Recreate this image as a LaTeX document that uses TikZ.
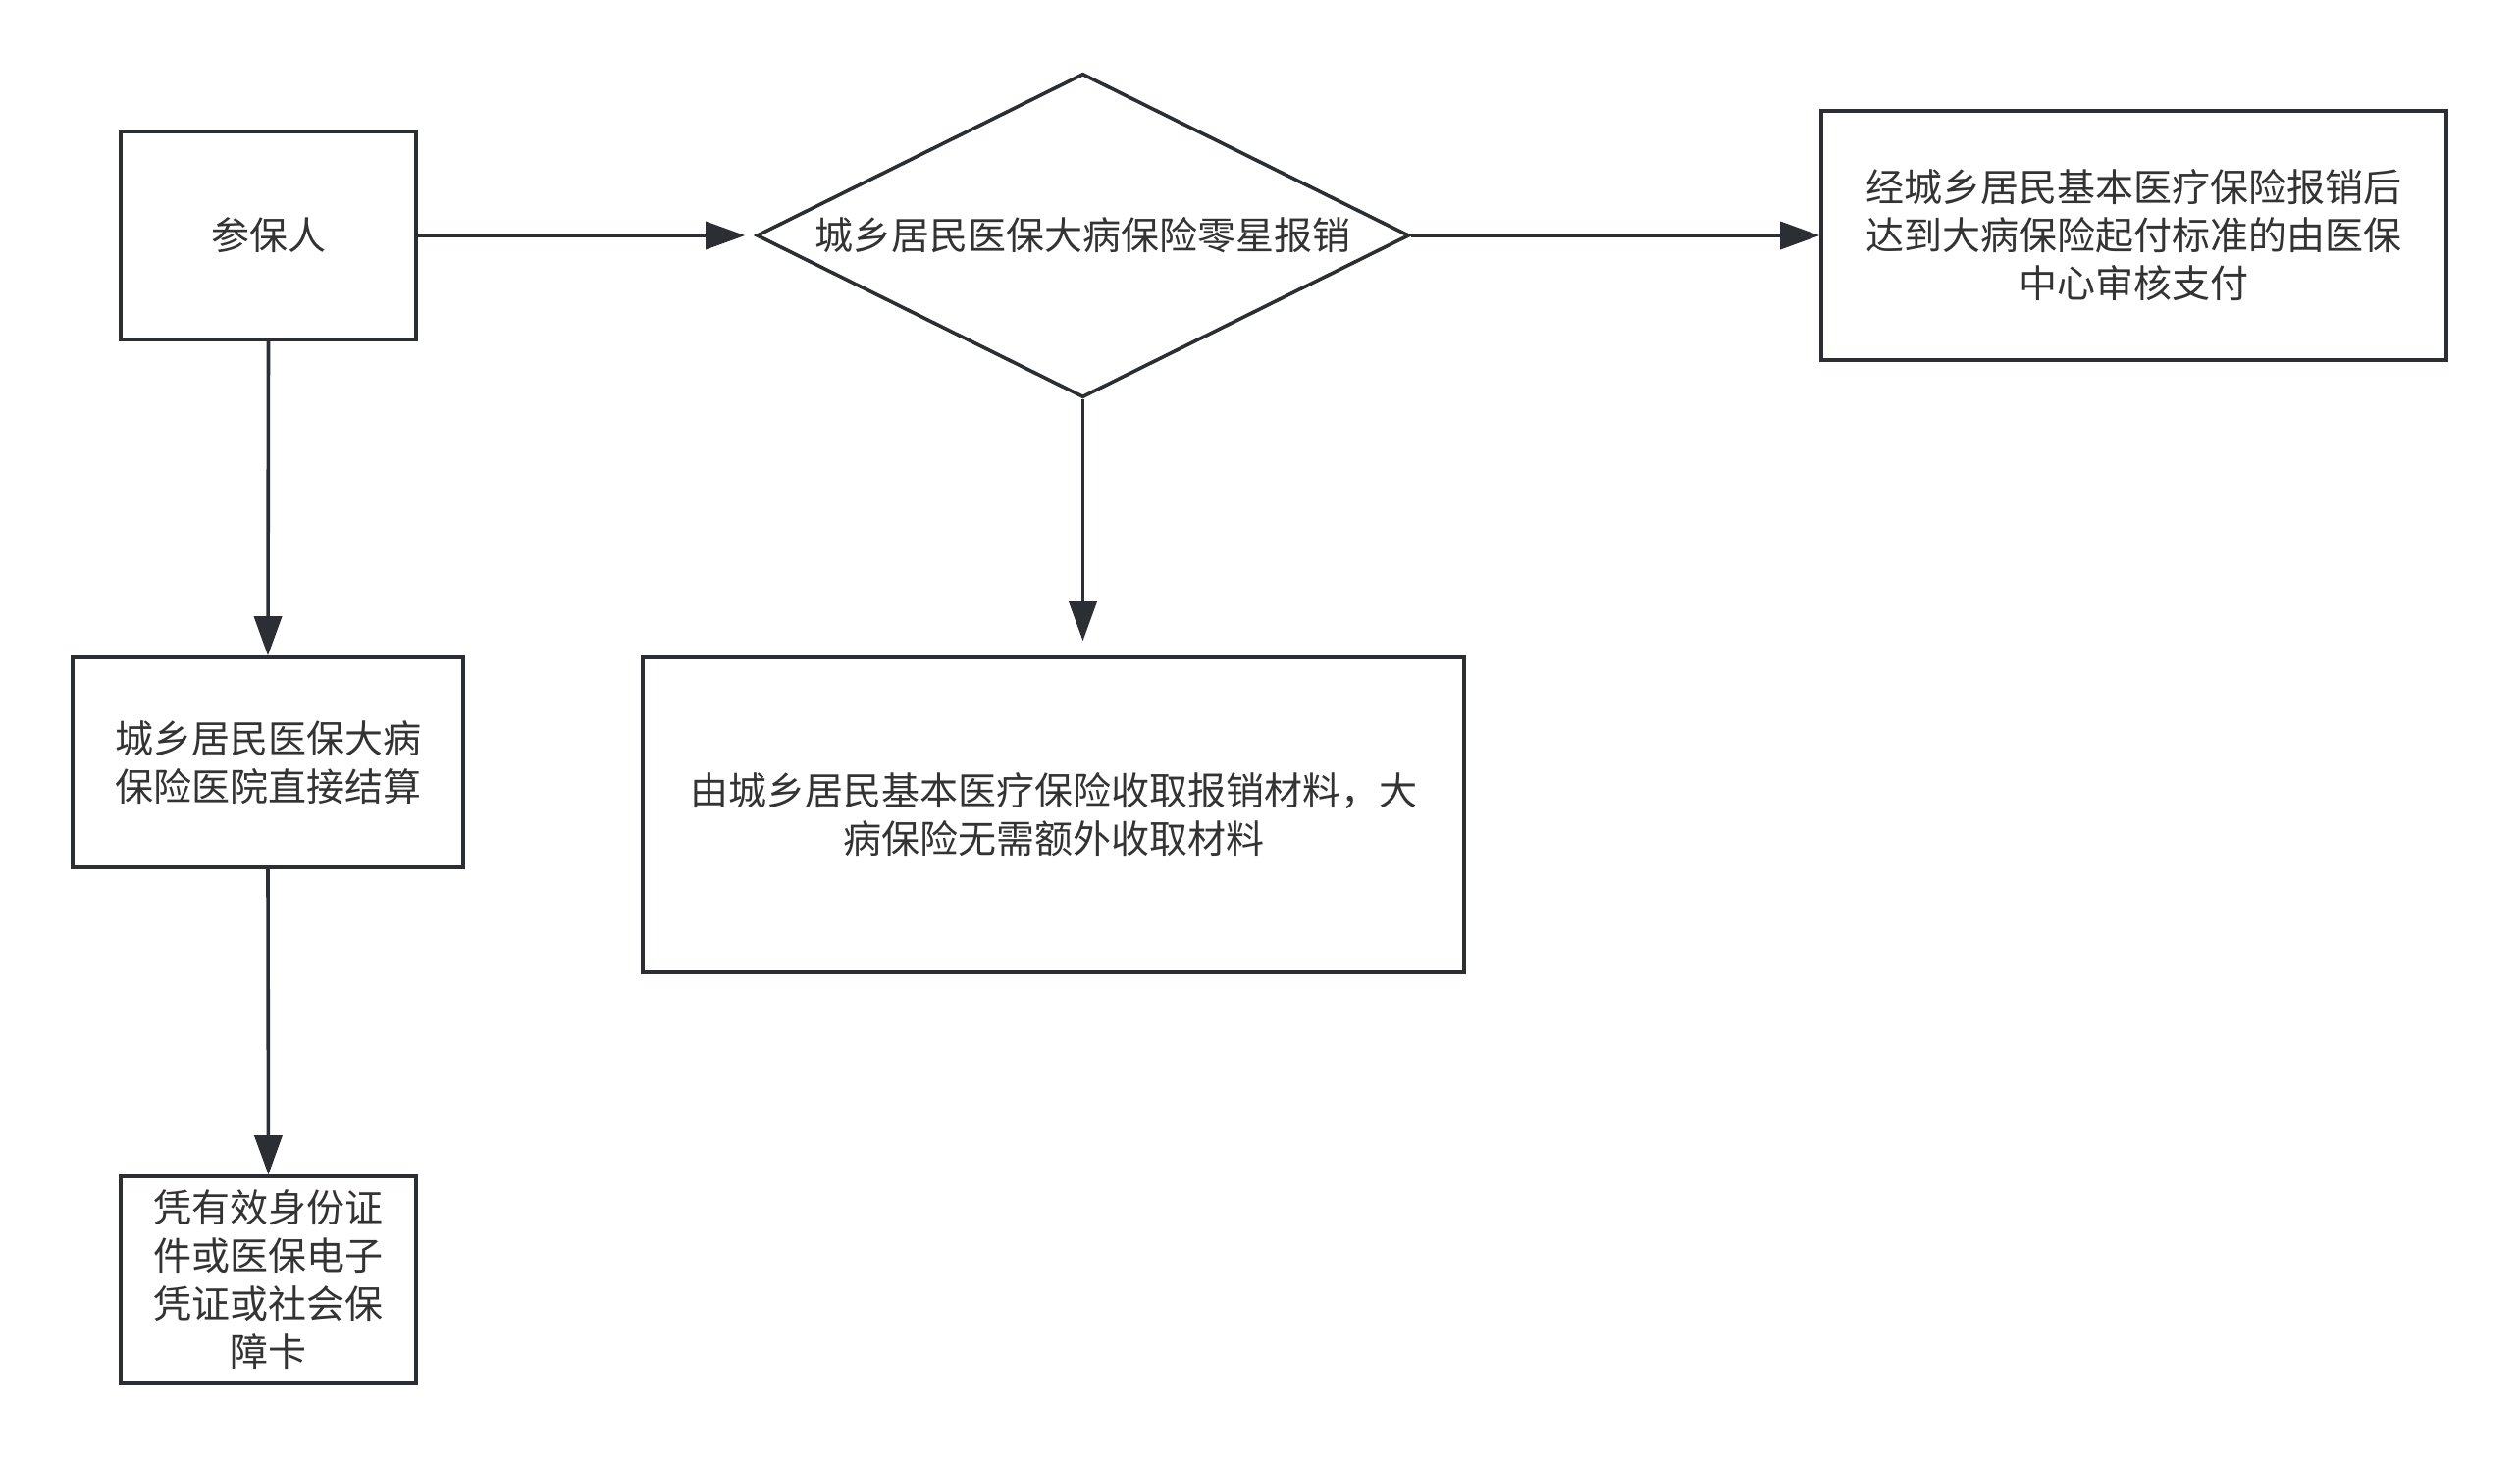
\documentclass[tikz,border=0pt]{standalone}
\usepackage{fontspec}
\newfontfamily\cjk{Noto Sans CJK SC}
\usetikzlibrary{shapes.geometric,arrows.meta}
\definecolor{ln}{HTML}{2B2F33}
\definecolor{tx}{HTML}{333333}
\begin{document}
\begin{tikzpicture}[x=0.5pt,y=-0.5pt,
  box/.style={draw=ln, line width=1.8pt, fill=white, inner sep=0pt, align=center,
    font=\cjk\fontsize{19.5pt}{24.5pt}\selectfont, text=tx},
  dec/.style={box, shape=diamond, aspect=2.015},
  arr/.style={draw=ln, line width=1.8pt, -{Triangle[length=20pt,width=14pt]}}]
\useasboundingbox (0,0) rectangle (2568,1485);
\fill[white] (0,0) rectangle (2568,1485);
\node[box, minimum width=150.5pt, minimum height=106pt] (cb) at (273.5,240) {参保人};
\node[dec, minimum width=332.5pt, minimum height=165pt] (dia) at (1103.5,240) {城乡居民医保大病保险零星报销};
\node[box, minimum width=318.5pt, minimum height=127pt] (rt) at (2174.5,240)
  {经城乡居民基本医疗保险报销后\\达到大病保险起付标准的由医保\\中心审核支付};
\node[box, minimum width=199pt, minimum height=107pt] (hosp) at (273,777)
  {城乡居民医保大病\\保险医院直接结算};
\node[box, minimum width=418.5pt, minimum height=160.5pt] (mid) at (1073.5,830.5)
  {由城乡居民基本医疗保险收取报销材料，大\\病保险无需额外收取材料};
\node[box, minimum width=150.5pt, minimum height=105.5pt] (card) at (273.5,1304.5)
  {凭有效身份证\\件或医保电子\\凭证或社会保\\障卡};
\draw[arr, shorten >=5pt] (cb.east) -- (dia.west);
\draw[arr] (dia.east) -- (rt.west);
\draw[arr, shorten >=7.5pt] (dia.south) -- (dia.south |- mid.north);
\draw[arr] (cb.south) -- (hosp.north);
\draw[arr] (hosp.south) -- (card.north);
\end{tikzpicture}
\end{document}
